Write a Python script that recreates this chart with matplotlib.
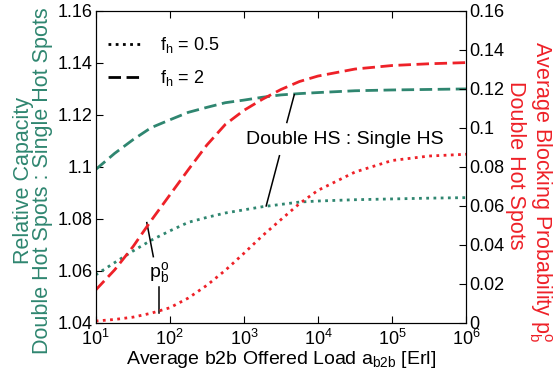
import matplotlib
matplotlib.use('Agg')
import matplotlib.pyplot as plt
from matplotlib.ticker import FormatStrFormatter

plt.rcParams['font.family'] = ['Liberation Sans', 'DejaVu Sans']
plt.rcParams['mathtext.fontset'] = 'custom'
plt.rcParams['mathtext.rm'] = 'Liberation Sans'
plt.rcParams['mathtext.it'] = 'Liberation Sans'

TEAL = '#2f8670'
RED = '#ee2128'

# offered load [Erl]
load = [10, 18, 32, 56, 100, 178, 316, 562, 1000, 1778, 3162, 5623,
        10000, 31623, 100000, 316228, 1000000]
# relative capacity double : single hot spots
cap_fh2 = [1.0990, 1.1052, 1.1105, 1.1151, 1.1181, 1.1210, 1.1229, 1.1247, 1.1257,
           1.1268, 1.1277, 1.1282, 1.1286, 1.1293, 1.1296, 1.1298, 1.1300]
cap_fh05 = [1.0585, 1.0632, 1.0677, 1.0718, 1.0754, 1.0787, 1.0806, 1.0823, 1.0835,
            1.0847, 1.0856, 1.0865, 1.0869, 1.0874, 1.0877, 1.0880, 1.0882]
# average blocking probability, double hot spots
pb_fh2 = [0.0169, 0.0272, 0.0392, 0.0525, 0.0656, 0.0786, 0.0912, 0.1018, 0.1090,
          0.1147, 0.1197, 0.1238, 0.1266, 0.1302, 0.1320, 0.1329, 0.1335]
pb_fh05 = [0.0010, 0.0018, 0.0030, 0.0050, 0.0078, 0.0128, 0.0193, 0.0270, 0.0357,
           0.0447, 0.0530, 0.0612, 0.0680, 0.0774, 0.0833, 0.0856, 0.0865]

fig = plt.figure(figsize=(5.53, 3.76), dpi=100)
ax = fig.add_axes([0.173, 0.141, 0.670, 0.830])
ax2 = ax.twinx()

ax.plot(load, cap_fh2, color=TEAL, lw=2, dashes=(4.5, 2))
ax.plot(load, cap_fh05, color=TEAL, lw=2, dashes=(1, 1.6))
ax2.plot(load, pb_fh2, color=RED, lw=2, dashes=(4.5, 2))
ax2.plot(load, pb_fh05, color=RED, lw=2, dashes=(1, 1.6))

ax.set_xscale('log')
ax.set_xlim(10, 1e6)
ax.set_ylim(1.04, 1.16)
ax2.set_ylim(0, 0.16)
ax.set_yticks([1.04, 1.06, 1.08, 1.1, 1.12, 1.14, 1.16])
ax2.set_yticks([0, 0.02, 0.04, 0.06, 0.08, 0.1, 0.12, 0.14, 0.16])
ax.yaxis.set_major_formatter(FormatStrFormatter('%g'))
ax2.yaxis.set_major_formatter(FormatStrFormatter('%g'))
ax.minorticks_off()
ax.tick_params(axis='both', direction='in', length=5, labelsize=13, top=True)
ax2.tick_params(axis='y', direction='in', length=5, labelsize=13, pad=2)
ax.tick_params(axis='y', pad=2)
ax.tick_params(axis='x', pad=4)

ax.set_xlabel(r'Average b2b Offered Load $\mathregular{a_{b2b}}$ [Erl]', fontsize=14, labelpad=0)
ax.set_ylabel('Relative Capacity\nDouble Hot Spots : Single Hot Spots', color=TEAL,
              fontsize=15.5, linespacing=0.92, va='center', ha='center')
ax.yaxis.set_label_coords(-0.169, 0.455)
ax2.set_ylabel(r'Average Blocking Probability $\mathregular{p_b^o}$', color=RED,
               fontsize=15.5, rotation=-90, va='center', ha='center')
ax2.yaxis.set_label_coords(1.199, 0.42)
ax2.text(1.132, 0.506, 'Double Hot Spots', transform=ax2.transAxes, color=RED,
         fontsize=15.5, rotation=-90, ha='center', va='center', clip_on=False)

# legend in black
h1, = ax.plot([], [], color='black', lw=2, dashes=(1, 1.6))
h2, = ax.plot([], [], color='black', lw=2, dashes=(4.5, 2))
ax.legend([h1, h2], [r'$\mathregular{f_h}$ = 0.5', r'$\mathregular{f_h}$ = 2'], loc='upper left',
          bbox_to_anchor=(0.014, 0.946), borderaxespad=0, frameon=False, fontsize=13,
          handlelength=1.8, labelspacing=0.72, handletextpad=1.1)

# annotations
ax.text(22900, 1.1089, 'Double HS : Single HS', fontsize=14, ha='center', va='baseline')
ax.plot([3800, 4790], [1.1171, 1.1278], color='black', lw=1.1)
ax.plot([3020, 2000], [1.1043, 1.085], color='black', lw=1.1)
ax.text(72, 1.0593, r'$\mathregular{p_b^o}$', fontsize=14, ha='center', va='center')
ax.plot([60, 49], [1.0655, 1.0786], color='black', lw=1.1)
ax.plot([71, 71], [1.054, 1.044], color='black', lw=1.1)

fig.savefig('out.png', dpi=100)
